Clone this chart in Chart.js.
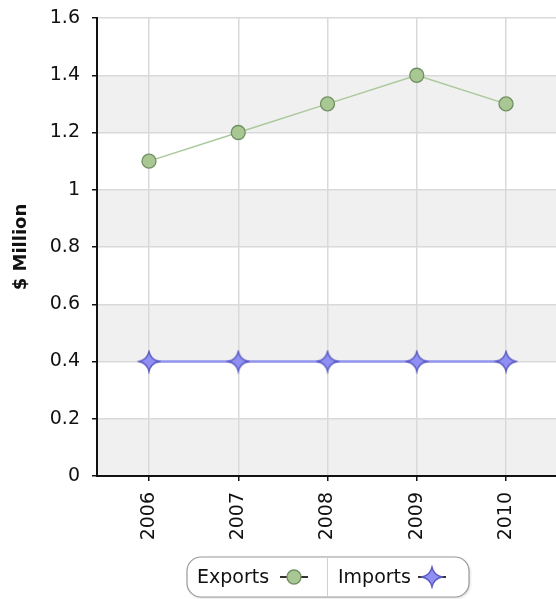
<!DOCTYPE html>
<html>
<head>
<meta charset="utf-8">
<script src="https://cdn.jsdelivr.net/npm/chart.js@4/dist/chart.umd.min.js"></script>
<style>
  html, body { margin: 0; padding: 0; background: #ffffff; }
  #wrap { width: 556px; height: 599px; }
</style>
</head>
<body>
<div id="wrap"><canvas id="chart" width="556" height="599"></canvas></div>
<script>
// Trade figures by year, in $ million
const years = ['2006', '2007', '2008', '2009', '2010'];
const exportsValues = [1.1, 1.2, 1.3, 1.4, 1.3];
const importsValues = [0.4, 0.4, 0.4, 0.4, 0.4];
const yTicks = [0, 0.2, 0.4, 0.6, 0.8, 1, 1.2, 1.4, 1.6];

const FONT = '"DejaVu Sans", Verdana, sans-serif';

// Four-pointed star marker (concave sides) used for the imports series
function makeStar(outer, inner, fill, stroke) {
  const size = Math.ceil(outer * 2 + 4);
  const c = document.createElement('canvas');
  c.width = size; c.height = size;
  const g = c.getContext('2d');
  const cx = size / 2, cy = size / 2;
  g.beginPath();
  for (let i = 0; i < 4; i++) {
    const a = -Math.PI / 2 + i * Math.PI / 2;
    const b = a + Math.PI / 2;
    const mid = a + Math.PI / 4;
    const px = cx + outer * Math.cos(a), py = cy + outer * Math.sin(a);
    const qx = cx + outer * Math.cos(b), qy = cy + outer * Math.sin(b);
    const kx = cx + inner * Math.cos(mid), ky = cy + inner * Math.sin(mid);
    if (i === 0) g.moveTo(px, py);
    g.quadraticCurveTo(kx, ky, qx, qy);
  }
  g.closePath();
  g.fillStyle = fill;
  g.fill();
  g.lineWidth = 1.3;
  g.strokeStyle = stroke;
  g.stroke();
  return c;
}
const starMarker = makeStar(10, 2.5, '#9090f4', '#5a5ac2');

// Alternating shaded bands behind the grid
const bandsPlugin = {
  id: 'bands',
  beforeDraw(chart) {
    const { ctx, chartArea, scales } = chart;
    const y = scales.y;
    ctx.save();
    ctx.fillStyle = '#f0f0f0';
    for (let i = 0; i < yTicks.length - 1; i += 2) {
      const top = y.getPixelForValue(yTicks[i + 1]);
      const bottom = y.getPixelForValue(yTicks[i]);
      ctx.fillRect(chartArea.left, top, chartArea.right - chartArea.left, bottom - top);
    }
    ctx.restore();
  }
};

// Boxed legend underneath the axis labels
const boxLegendPlugin = {
  id: 'boxLegend',
  afterDraw(chart) {
    const { ctx } = chart;
    const left = 187, top = 557, w = 282, h = 40, r = 14, divider = 327;
    ctx.save();
    ctx.shadowColor = 'rgba(0,0,0,0.18)';
    ctx.shadowBlur = 3;
    ctx.shadowOffsetX = 1;
    ctx.shadowOffsetY = 1;
    ctx.beginPath();
    ctx.roundRect(left, top, w, h, r);
    ctx.fillStyle = '#ffffff';
    ctx.fill();
    ctx.shadowColor = 'transparent';
    ctx.lineWidth = 1.2;
    ctx.strokeStyle = '#9a9a9a';
    ctx.stroke();
    ctx.beginPath();
    ctx.moveTo(divider + 0.5, top + 1);
    ctx.lineTo(divider + 0.5, top + h - 1);
    ctx.strokeStyle = '#d0d0d0';
    ctx.lineWidth = 1;
    ctx.stroke();

    const items = [
      { x: 197, sym: 280, ds: chart.data.datasets[0] },
      { x: 338, sym: 418, ds: chart.data.datasets[1] }
    ];
    ctx.font = '19px ' + FONT;
    ctx.textBaseline = 'middle';
    const cy = top + h / 2;
    items.forEach(it => {
      ctx.fillStyle = '#111111';
      ctx.fillText(it.ds.label, it.x, cy + 1);
      const lw = 28;
      ctx.beginPath();
      ctx.moveTo(it.sym, cy);
      ctx.lineTo(it.sym + lw, cy);
      ctx.strokeStyle = '#333333';
      ctx.lineWidth = 2;
      ctx.stroke();
      const mx = it.sym + lw / 2;
      if (it.ds.pointStyle === 'circle') {
        ctx.beginPath();
        ctx.arc(mx, cy, 7, 0, Math.PI * 2);
        ctx.fillStyle = it.ds.pointBackgroundColor;
        ctx.fill();
        ctx.lineWidth = 1.3;
        ctx.strokeStyle = it.ds.pointBorderColor;
        ctx.stroke();
      } else {
        const img = it.ds.pointStyle;
        ctx.drawImage(img, mx - img.width / 2, cy - img.height / 2);
      }
    });
    ctx.restore();
  }
};

new Chart(document.getElementById('chart'), {
  type: 'line',
  data: {
    datasets: [
      {
        label: 'Exports',
        data: exportsValues.map((v, i) => ({ x: i, y: v })),
        borderColor: '#a9c99a',
        borderWidth: 1.5,
        pointStyle: 'circle',
        pointRadius: 7,
        pointHoverRadius: 7,
        pointBackgroundColor: '#a9c793',
        pointBorderColor: '#6f8f62',
        pointBorderWidth: 1.3,
        tension: 0
      },
      {
        label: 'Imports',
        data: importsValues.map((v, i) => ({ x: i, y: v })),
        borderColor: '#9494f0',
        borderWidth: 2.5,
        pointStyle: starMarker,
        pointRadius: 10,
        pointHoverRadius: 10,
        tension: 0
      }
    ]
  },
  options: {
    responsive: false,
    animation: false,
    events: [],
    layout: { autoPadding: false, padding: { top: 18, right: 0, bottom: 0, left: 0 } },
    plugins: {
      legend: { display: false },
      tooltip: { enabled: false }
    },
    scales: {
      x: {
        type: 'linear',
        min: -0.5826,
        max: 4.56,
        afterBuildTicks(scale) {
          scale.ticks = years.map((y, i) => ({ value: i }));
        },
        afterFit(scale) {
          scale.height = 123;
          scale.paddingLeft = 0;
          scale.paddingRight = 0;
        },
        ticks: {
          autoSkip: false,
          minRotation: 90,
          maxRotation: 90,
          padding: 11,
          color: '#111111',
          font: { family: FONT, size: 19 },
          callback: v => years[v]
        },
        grid: {
          color: '#d9d9d9',
          lineWidth: 1.5,
          tickColor: '#111111',
          tickLength: 5,
          tickWidth: 1.5
        },
        border: { color: '#111111', width: 2 }
      },
      y: {
        min: 0,
        max: 1.6,
        afterBuildTicks(scale) {
          scale.ticks = yTicks.map(v => ({ value: v }));
        },
        afterFit(scale) {
          scale.width = 97;
          scale.paddingTop = 0;
          scale.paddingBottom = 0;
        },
        ticks: {
          padding: 12,
          color: '#111111',
          font: { family: FONT, size: 19 },
          callback: v => String(Math.round(v * 10) / 10)
        },
        grid: {
          color: '#d9d9d9',
          lineWidth: 1.5,
          tickColor: '#111111',
          tickLength: 5,
          tickWidth: 1.5
        },
        border: { color: '#111111', width: 2 },
        title: {
          display: true,
          text: '$ Million',
          color: '#111111',
          font: { family: FONT, size: 18, weight: 'bold' },
          padding: { top: 11, bottom: 0 }
        }
      }
    }
  },
  plugins: [bandsPlugin, boxLegendPlugin]
});
</script>
</body>
</html>
